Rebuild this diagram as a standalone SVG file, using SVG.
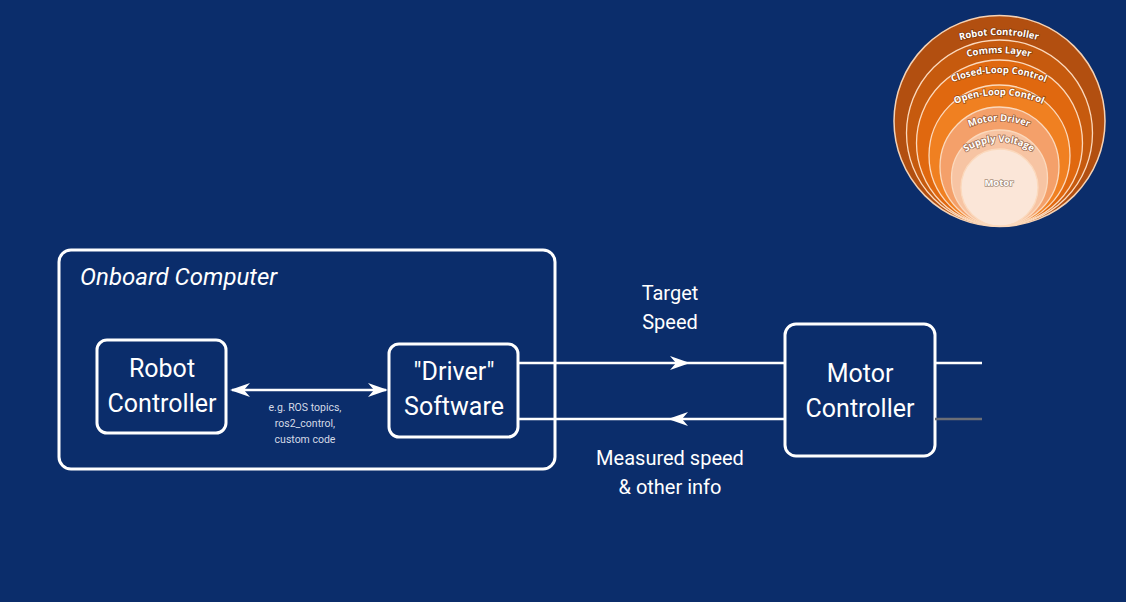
<svg xmlns="http://www.w3.org/2000/svg" width="1126" height="602" viewBox="0 0 1126 602">
<style>
.box{fill:none;stroke:#fff;stroke-width:3}
.lbl{font-family:Roboto,"Liberation Sans",sans-serif;fill:#fff;text-anchor:middle}
.big{font-size:25px}
.mid{font-size:20px}
.sm{font-size:10.5px;fill:#d4dae6}
.line{stroke:#fff;stroke-width:2.5;fill:none}
.ring{stroke:#fbd9bd;stroke-width:1.3}
.rt{font-family:"Open Sans","Liberation Sans",sans-serif;font-weight:bold;font-size:9.5px;fill:#fff;stroke:rgba(90,40,10,0.55);stroke-width:1.6;paint-order:stroke;text-anchor:middle}
</style>
<defs>
<marker id="ah" viewBox="0 0 20 14" refX="18" refY="7" markerWidth="20" markerHeight="14" markerUnits="userSpaceOnUse" orient="auto-start-reverse">
<path d="M0,0 L20,7 L0,14 L6,7 Z" fill="#fff"/>
</marker>
<radialGradient id="glow" cx="0.5" cy="1" r="0.5">
<stop offset="0" stop-color="#fff" stop-opacity="0.6"/>
<stop offset="1" stop-color="#fff" stop-opacity="0"/>
</radialGradient>
<clipPath id="cc"><circle cx="999.5" cy="121" r="105.5"/></clipPath>
<path id="a1" d="M849,185 A150,150 0 0 1 1149,185"/>
<path id="a2" d="M869,183 A130,130 0 0 1 1129,183"/>
<path id="a3" d="M879,193 A120,120 0 0 1 1119,193"/>
<path id="a4" d="M889,205 A110,110 0 0 1 1109,205"/>
<path id="a5" d="M924,196 A75,75 0 0 1 1074,196"/>
<path id="a6" d="M939,202 A60,60 0 0 1 1059,202"/>
</defs>
<rect width="1126" height="602" fill="#0b2d6b"/>

<g id="layers">
<circle cx="999.5" cy="121" r="105.5" fill="#b24f10" stroke="#f6d2b4" stroke-width="1.5"/>
<circle class="ring" cx="999.5" cy="133" r="93" fill="#c65a0e"/>
<circle class="ring" cx="999.5" cy="143" r="83" fill="#e0680f"/>
<circle class="ring" cx="999.5" cy="155.5" r="70.5" fill="#f08021"/>
<circle class="ring" cx="999.5" cy="166.5" r="59.5" fill="#f4a06a"/>
<circle class="ring" cx="999.5" cy="178" r="48" fill="#f7c4a3"/>
<circle class="ring" cx="999.5" cy="187.5" r="38.5" fill="#fbe6d8"/>
<ellipse cx="999.5" cy="226" rx="40" ry="14" fill="url(#glow)" clip-path="url(#cc)"/>
<text class="rt"><textPath href="#a1" startOffset="50%">Robot Controller</textPath></text>
<text class="rt"><textPath href="#a2" startOffset="50%">Comms Layer</textPath></text>
<text class="rt"><textPath href="#a3" startOffset="50%">Closed-Loop Control</textPath></text>
<text class="rt"><textPath href="#a4" startOffset="50%">Open-Loop Control</textPath></text>
<text class="rt"><textPath href="#a5" startOffset="50%">Motor Driver</textPath></text>
<text class="rt"><textPath href="#a6" startOffset="50%">Supply Voltage</textPath></text>
<text class="rt" x="999" y="186" style="stroke:rgba(90,60,40,0.5)">Motor</text>
</g>

<g id="onboard-computer">
<rect class="box" x="59" y="250" width="496" height="219" rx="12"/>
<text x="80" y="285" style="font-family:Roboto,'Liberation Sans',sans-serif;font-style:italic;font-size:24px;fill:#fff">Onboard Computer</text>
</g>

<g id="robot-controller">
<rect class="box" x="97" y="340" width="129" height="93" rx="10"/>
<text class="lbl big" x="162" y="377">Robot</text>
<text class="lbl big" x="162" y="412">Controller</text>
</g>

<g id="driver-software">
<rect class="box" x="389" y="344" width="129" height="93" rx="10"/>
<text class="lbl big" x="454" y="380">"Driver"</text>
<text class="lbl big" x="454" y="415">Software</text>
</g>

<g id="motor-controller">
<rect class="box" x="785" y="324" width="150" height="132" rx="11"/>
<text class="lbl big" x="860" y="382">Motor</text>
<text class="lbl big" x="860" y="417">Controller</text>
</g>

<g id="connectors">
<line class="line" x1="232" y1="390" x2="386" y2="390" marker-start="url(#ah)" marker-end="url(#ah)"/>
<line class="line" x1="518" y1="363" x2="785" y2="363"/>
<path d="M670,356 L690,363 L670,370 L676,363 Z" fill="#fff"/>
<line class="line" x1="518" y1="419" x2="785" y2="419"/>
<path d="M688,412 L668,419 L688,426 L682,419 Z" fill="#fff"/>
<line class="line" x1="935" y1="363" x2="982" y2="363"/>
<line x1="935" y1="419" x2="982" y2="419" stroke="#6b6e76" stroke-width="2.5"/>
</g>

<g id="labels">
<text class="lbl sm" x="305" y="411">e.g. ROS topics,</text>
<text class="lbl sm" x="305" y="427">ros2_control,</text>
<text class="lbl sm" x="305" y="443">custom code</text>
<text class="lbl mid" x="670" y="300">Target</text>
<text class="lbl mid" x="670" y="329">Speed</text>
<text class="lbl mid" x="670" y="465">Measured speed</text>
<text class="lbl mid" x="670" y="494">&amp; other info</text>
</g>
</svg>
